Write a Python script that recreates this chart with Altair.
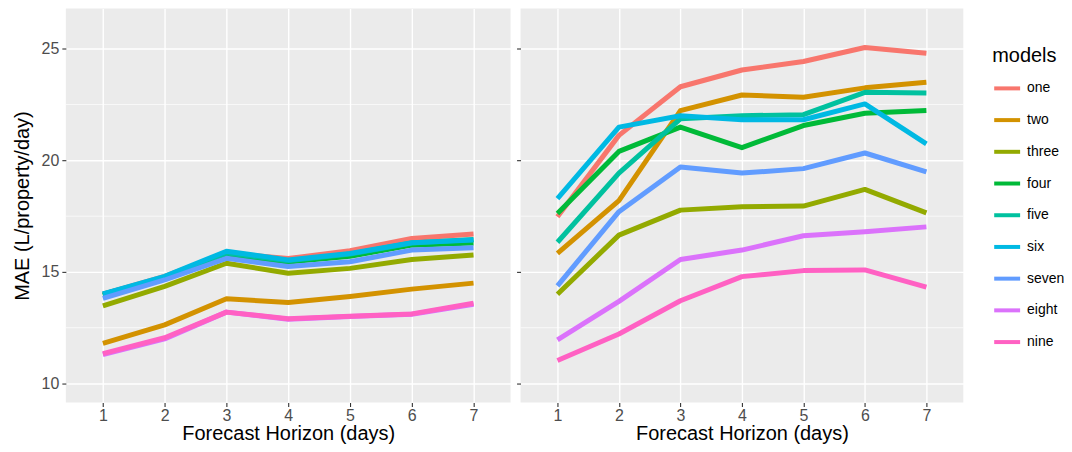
import altair as alt
import pandas as pd

horizon = [1, 2, 3, 4, 5, 6, 7]
models = ["one", "two", "three", "four", "five", "six", "seven", "eight", "nine"]
palette = ["#F8766D", "#D39200", "#93AA00", "#00BA38", "#00C19F",
           "#00B9E3", "#619CFF", "#DB72FB", "#FF61C3"]
y_major = [10, 15, 20, 25]
y_minor = [12.5, 17.5, 22.5]

# left panel
left_one = [14.0, 14.8, 15.85, 15.6, 15.95, 16.5, 16.7]
left_two = [11.8, 12.63, 13.8, 13.63, 13.9, 14.23, 14.5]
left_three = [13.48, 14.35, 15.39, 14.94, 15.16, 15.56, 15.76]
left_four = [13.95, 14.7, 15.75, 15.45, 15.7, 16.2, 16.3]
left_five = [14.0, 14.75, 15.85, 15.5, 15.8, 16.3, 16.45]
left_six = [14.02, 14.8, 15.93, 15.54, 15.83, 16.31, 16.43]
left_seven = [13.82, 14.64, 15.61, 15.24, 15.46, 15.98, 16.08]
left_eight = [11.3, 12.0, 13.2, 12.88, 13.0, 13.1, 13.55]
left_nine = [11.34, 12.05, 13.2, 12.9, 13.02, 13.12, 13.6]

# right panel
right_one = [17.47, 21.12, 23.3, 24.05, 24.43, 25.06, 24.8]
right_two = [15.83, 18.2, 22.23, 22.93, 22.83, 23.25, 23.5]
right_three = [14.0, 16.65, 17.77, 17.92, 17.95, 18.7, 17.65]
right_four = [17.62, 20.4, 21.49, 20.57, 21.56, 22.11, 22.23]
right_five = [16.33, 19.43, 21.86, 22.0, 22.05, 23.05, 23.02]
right_six = [18.29, 21.49, 22.0, 21.82, 21.82, 22.53, 20.74]
right_seven = [14.38, 17.7, 19.7, 19.43, 19.63, 20.33, 19.48]
right_eight = [11.96, 13.68, 15.56, 15.98, 16.62, 16.8, 17.02]
right_nine = [11.03, 12.22, 13.71, 14.79, 15.06, 15.09, 14.32]

left_series = [left_one, left_two, left_three, left_four, left_five,
               left_six, left_seven, left_eight, left_nine]
right_series = [right_one, right_two, right_three, right_four, right_five,
                right_six, right_seven, right_eight, right_nine]


def to_long(series):
    rows = []
    for i, (m, vals) in enumerate(zip(models, series)):
        for h, v in zip(horizon, vals):
            rows.append({"h": h, "mae": v, "model": m, "k": i})
    return pd.DataFrame(rows)


yscale = alt.Scale(domain=[9.15, 26.8], nice=False, zero=False)
xscale = alt.Scale(type="point", padding=0.6)


def panel(series, show_y, width):
    yax_kwargs = dict(values=y_major, grid=True, gridColor="white", gridWidth=1.4,
                      domain=False, ticks=True, tickColor="#333333", tickSize=4,
                      tickWidth=1.1, labels=show_y, labelColor="#4D4D4D",
                      labelFontSize=16, labelPadding=3, titleFontSize=20,
                      titleFontWeight="normal", titleColor="black", titlePadding=9)
    if show_y:
        yax = alt.Axis(title="MAE (L/property/day)", **yax_kwargs)
    else:
        yax = alt.Axis(title=None, **yax_kwargs)
    xax = alt.Axis(title="Forecast Horizon (days)", labelAngle=0, grid=True,
                   gridColor="white", gridWidth=1.4, domain=False, tickColor="#333333",
                   tickSize=4, tickWidth=1.1, labelColor="#4D4D4D", labelFontSize=16,
                   labelPadding=1, titleFontSize=20, titleFontWeight="normal",
                   titleColor="black", titlePadding=0)
    minor = alt.Chart(pd.DataFrame({"mae": y_minor})).mark_rule(
        color="white", strokeWidth=0.7
    ).encode(y=alt.Y("mae:Q", scale=yscale, axis=yax))
    lines = alt.Chart(to_long(series)).mark_line(
        strokeWidth=5, strokeCap="butt", strokeJoin="round"
    ).encode(
        x=alt.X("h:O", scale=xscale, axis=xax),
        y=alt.Y("mae:Q", scale=yscale, axis=yax),
        color=alt.Color(
            "model:N",
            scale=alt.Scale(domain=models, range=palette),
            sort=models,
            legend=alt.Legend(
                title="models", orient="none", legendX=929, legendY=38,
                direction="vertical", titleFontSize=20, titleFontWeight="normal",
                titleColor="black", titlePadding=7, labelFontSize=14,
                labelColor="black", symbolType="stroke", symbolStrokeWidth=4,
                symbolSize=676, labelOffset=5, rowPadding=8.8,
            ),
        ),
    )
    return alt.layer(minor, lines).properties(width=width, height=395)


chart = alt.hconcat(
    panel(left_series, True, 446),
    panel(right_series, False, 444),
    spacing=4,
).properties(
    padding={"left": 4, "top": 0, "right": -1, "bottom": 0}
).configure(
    font="Liberation Sans"
).configure_view(
    fill="#EBEBEB", stroke=None
)

chart.save("out.html", embed_options={"renderer": "svg", "actions": False})
